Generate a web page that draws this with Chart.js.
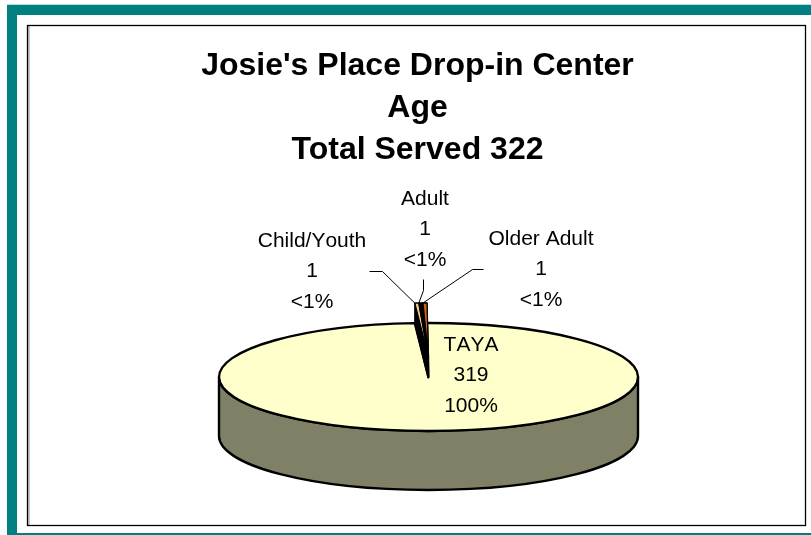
<!DOCTYPE html>
<html><head><meta charset="utf-8">
<style>html,body{margin:0;padding:0;background:#fff;overflow:hidden}#w{position:absolute;left:0;top:0;width:811px;height:535px}</style>
<script src="https://cdn.jsdelivr.net/npm/chart.js@4/dist/chart.umd.min.js"></script>
</head><body><div id="w"><canvas id="c" width="811" height="535"></canvas></div>
<script>
const titleLines = ["Josie's Place Drop-in Center", "Age", "Total Served 322"];
const categories = ["TAYA", "Child/Youth", "Adult", "Older Adult"];
const values = [319, 1, 1, 1];
const percents = ["100%", "<1%", "<1%", "<1%"];
const sliceColors = ["#FFFFCC", "#F2C795", "#000000", "#D2600F"];

const FONT = '"Liberation Sans", Arial, sans-serif';
const PIE = {cx: 428.5, cy: 377, rx: 209.5, ry: 54, depth: 59, lift: 20};
// label centre x, first line y (index matches categories)
const labelPos = [[471, 345], [312, 241], [425, 199], [541, 239]];
// leader polyline start and elbow (null = none)
const leaders = [null, [[369, 271], [382, 271]], [[423, 279], [423, 290]], [[483, 269], [472, 269]]];

function frame(el) { return {sx: PIE.rx / el.outerRadius, sy: PIE.ry / el.outerRadius}; }
function withPie(ctx, el, lifted, fn) {
  const f = frame(el);
  ctx.save();
  ctx.translate(PIE.cx, PIE.cy - (lifted ? PIE.lift : 0));
  ctx.scale(f.sx, f.sy);
  ctx.translate(-el.x, -el.y);
  fn();
  ctx.restore();
}
function project(el, ang, lifted) {
  const f = frame(el), r = el.outerRadius;
  return [PIE.cx + Math.cos(ang) * r * f.sx,
          PIE.cy - (lifted ? PIE.lift : 0) + Math.sin(ang) * r * f.sy];
}
function slicePath(c, el) {
  c.beginPath();
  c.arc(el.x, el.y, el.outerRadius, el.startAngle, el.endAngle);
  c.lineTo(el.x, el.y);
  c.closePath();
}

const pie3d = {
  id: 'pie3d',
  beforeDraw(chart) {
    const c = chart.ctx;
    c.save();
    c.fillStyle = '#B8DEDA'; c.fillRect(7, 4, 804, 1);
    c.fillStyle = '#008080';
    c.fillRect(7, 5, 804, 10);
    c.fillRect(7, 5, 10, 530);
    c.fillRect(17, 533, 794, 2);
    c.fillStyle = '#C8C8C8'; c.fillRect(28, 26, 2, 499);
    c.strokeStyle = '#000'; c.lineWidth = 1.3;
    c.strokeRect(27.5, 25.5, 778, 500);
    c.restore();
  },
  beforeDatasetDraw(chart) {
    const c = chart.ctx, {cx, cy, rx, ry, depth} = PIE;
    c.save();
    c.beginPath();
    c.moveTo(cx - rx, cy);
    c.lineTo(cx - rx, cy + depth);
    c.ellipse(cx, cy + depth, rx, ry, 0, Math.PI, 0, true);
    c.lineTo(cx + rx, cy);
    c.ellipse(cx, cy, rx, ry, 0, 0, Math.PI, false);
    c.closePath();
    c.fillStyle = '#808066'; c.fill();
    c.strokeStyle = '#000'; c.lineWidth = 2.4; c.lineJoin = 'round'; c.stroke();
    c.restore();
    const el = chart.getDatasetMeta(0).data[0];
    const f = frame(el);
    c.save();
    c.translate(cx, cy); c.scale(f.sx, f.sy); c.translate(-el.x, -el.y);
  },
  afterDatasetDraw(chart) {
    const c = chart.ctx;
    c.restore();
    const arcs = chart.getDatasetMeta(0).data;
    const big = arcs[0];
    c.save();
    c.strokeStyle = '#000'; c.lineWidth = 2.4; c.lineJoin = 'round';
    withPie(c, big, false, () => slicePath(c, big));
    c.stroke();
    // dark column under the lifted small slices
    const first = arcs[1], last = arcs[arcs.length - 1];
    const a = project(first, first.startAngle, true);
    const b = project(last, last.endAngle, true);
    const d = project(first, first.startAngle, false);
    c.beginPath();
    c.moveTo(a[0], a[1]); c.lineTo(b[0], b[1]);
    c.lineTo(PIE.cx - 0.5, PIE.cy + 1);
    c.lineTo(d[0], d[1]);
    c.closePath();
    c.fillStyle = '#000'; c.fill(); c.lineWidth = 1.2; c.stroke();
    // lifted slice faces
    for (let i = 1; i < arcs.length; i++) {
      const el = arcs[i];
      withPie(c, el, true, () => slicePath(c, el));
      c.fillStyle = el.options.backgroundColor; c.fill();
      c.lineWidth = 1.3; c.stroke();
    }
    // leaders
    c.lineWidth = 1;
    arcs.forEach((el, i) => {
      if (!leaders[i]) return;
      const end = project(el, el.startAngle, true);
      c.beginPath();
      c.moveTo(leaders[i][0][0] + .5, leaders[i][0][1] + .5);
      c.lineTo(leaders[i][1][0] + .5, leaders[i][1][1] + .5);
      c.lineTo(end[0], end[1]);
      c.stroke();
    });
    // labels
    c.fillStyle = '#000'; c.font = '21px ' + FONT;
    c.fontKerning = 'none';
    c.textAlign = 'center'; c.textBaseline = 'middle';
    categories.forEach((name, i) => {
      const [x, y] = labelPos[i];
      [name, String(values[i]), percents[i]].forEach((t, j) => c.fillText(t, x, y + j * 30.5));
    });
    c.restore();
  }
};

new Chart(document.getElementById('c'), {
  type: 'pie',
  data: {
    labels: categories,
    datasets: [{data: values, backgroundColor: sliceColors, borderWidth: 0}]
  },
  options: {
    responsive: false,
    animation: false,
    rotation: -0.4,
    layout: {padding: {left: 29, right: 5, top: 45, bottom: 10}},
    plugins: {
      legend: {display: false},
      tooltip: {enabled: false},
      title: {display: true, text: titleLines, color: '#000', padding: 0,
        font: {family: FONT, size: 32, weight: 'bold', lineHeight: 42 / 32}}
    }
  },
  plugins: [pie3d]
});
</script></body></html>
